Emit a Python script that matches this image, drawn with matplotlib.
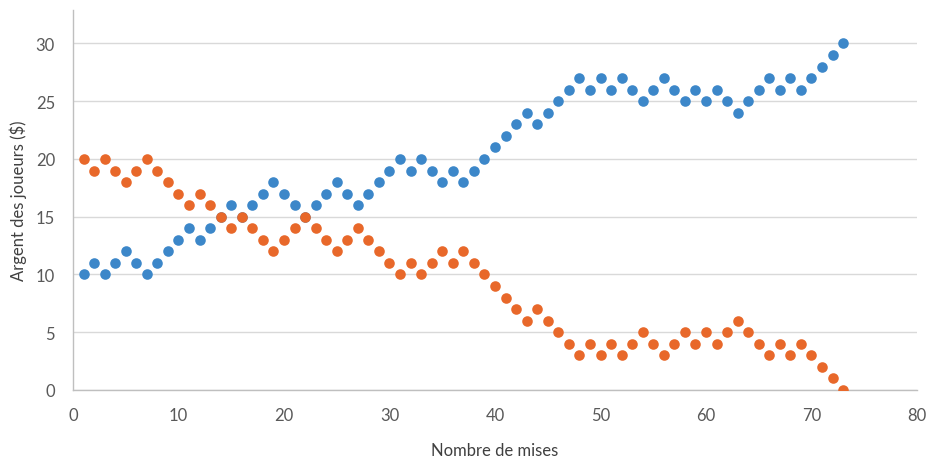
import matplotlib
matplotlib.use("Agg")
import matplotlib.pyplot as plt

mises = list(range(1, 74))
joueur_a = [10, 11, 10, 11, 12, 11, 10, 11, 12, 13,
            14, 13, 14, 15, 16, 15, 16, 17, 18, 17,
            16, 15, 16, 17, 18, 17, 16, 17, 18, 19,
            20, 19, 20, 19, 18, 19, 18, 19, 20, 21,
            22, 23, 24, 23, 24, 25, 26, 27, 26, 27,
            26, 27, 26, 25, 26, 27, 26, 25, 26, 25,
            26, 25, 24, 25, 26, 27, 26, 27, 26, 27,
            28, 29, 30]
joueur_b = [20, 19, 20, 19, 18, 19, 20, 19, 18, 17,
            16, 17, 16, 15, 14, 15, 14, 13, 12, 13,
            14, 15, 14, 13, 12, 13, 14, 13, 12, 11,
            10, 11, 10, 11, 12, 11, 12, 11, 10, 9,
            8, 7, 6, 7, 6, 5, 4, 3, 4, 3,
            4, 3, 4, 5, 4, 3, 4, 5, 4, 5,
            4, 5, 6, 5, 4, 3, 4, 3, 4, 3,
            2, 1, 0]
x_ticks = [0, 10, 20, 30, 40, 50, 60, 70, 80]
y_ticks = [0, 5, 10, 15, 20, 25, 30]

plt.rcParams['font.family'] = ['Lato', 'DejaVu Sans']

fig = plt.figure(figsize=(9.28, 4.6), dpi=100)
ax = fig.add_axes([73/928, 69/460, (917-73)/928, (391-11)/460])

ax.scatter(mises, joueur_a, s=58, color='#3C87C9', zorder=3, linewidths=0)
ax.scatter(mises, joueur_b, s=58, color='#E8682A', zorder=3, linewidths=0)

ax.set_xlim(0, 80)
ax.set_ylim(0, 32.9)
ax.set_xticks(x_ticks)
ax.set_yticks(y_ticks)
ax.grid(axis='y', color='#D9D9D9', linewidth=1)
ax.set_axisbelow(True)
for s in ['top', 'right']:
    ax.spines[s].set_visible(False)
for s in ['left', 'bottom']:
    ax.spines[s].set_color('#BFBFBF')
    ax.spines[s].set_linewidth(1)
ax.tick_params(axis='x', length=0, colors='#595959', labelsize=12, pad=12)
ax.tick_params(axis='y', length=0, colors='#595959', labelsize=12, pad=13)
ax.set_xlabel('Nombre de mises', fontsize=12, color='#404040', labelpad=14)
ax.set_ylabel('Argent des joueurs ($)', fontsize=12, color='#404040', labelpad=6)

fig.savefig('out.png', dpi=100)
